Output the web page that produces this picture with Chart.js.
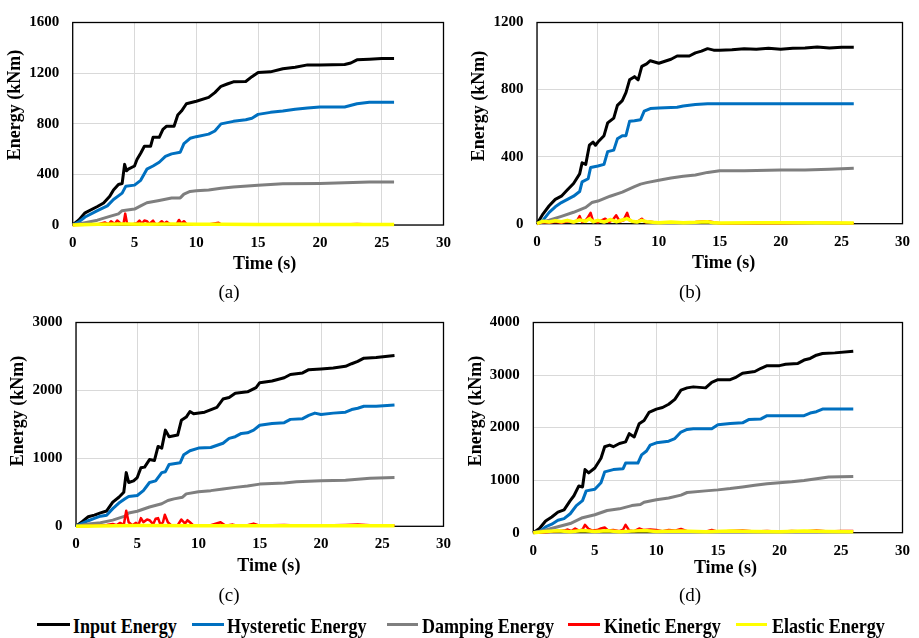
<!DOCTYPE html>
<html>
<head>
<meta charset="utf-8">
<script src="https://cdn.jsdelivr.net/npm/chart.js@4.4.1/dist/chart.umd.min.js"></script>
<style>
  html, body { margin: 0; padding: 0; background: #fff; }
  #wrap { position: relative; width: 919px; height: 638px; overflow: hidden; font-family: "Liberation Serif", "Times New Roman", serif; }
  .panel { position: absolute; }
  .cap { position: absolute; font-size: 19px; transform: translate(-50%, -50%); color: #000; }
  .ax { position: absolute; font-size: 18px; font-weight: bold; white-space: nowrap; color: #000; transform: translate(-50%, -50%); }
  .ax.v { transform: translate(-50%, -50%) rotate(-90deg); }
  .lg-line { position: absolute; height: 3px; }
  .lg-text { position: absolute; font-weight: bold; font-size: 21px; transform: translateY(-50%) scaleX(0.86); transform-origin: left center; white-space: nowrap; color: #000; }
</style>
</head>
<body>
<div id="wrap">
  <div class="panel" style="left:0;top:0;width:460px;height:300px"><canvas id="ca"></canvas></div>
  <div class="panel" style="left:460px;top:0;width:459px;height:300px"><canvas id="cb"></canvas></div>
  <div class="panel" style="left:0;top:300px;width:460px;height:310px"><canvas id="cc"></canvas></div>
  <div class="panel" style="left:460px;top:300px;width:459px;height:310px"><canvas id="cd"></canvas></div>
</div>
<script>
// --- Labels ---
const seriesNames = ['Input Energy', 'Hysteretic Energy', 'Damping Energy', 'Kinetic Energy', 'Elastic Energy'];
const seriesColors = ['#000000', '#0070c0', '#7f7f7f', '#ff0000', '#ffff00'];
const captions = ['(a)', '(b)', '(c)', '(d)'];
const xTitle = 'Time (s)';
const yTitle = 'Energy (kNm)';
const xTicks = [0, 5, 10, 15, 20, 25, 30];
const yTicksA = [0, 400, 800, 1200, 1600];
const yTicksB = [0, 400, 800, 1200];
const yTicksC = [0, 1000, 2000, 3000];
const yTicksD = [0, 1000, 2000, 3000, 4000];

// --- Panel (a) ---
const tInputA = [0,0.5,1,2,2.5,3,3.3,3.7,4.0,4.2,4.35,4.5,5,5.2,5.5,5.8,6.3,6.5,7,7.3,7.6,8.2,8.5,8.8,9.2,10,11,11.5,12,12.5,13,14,14.5,15,16,17,18,19,20,22,22.5,23,24,25,26];
const eInputA = [0,40,96,146,174,227,277,320,328,479,428,441,466,517,567,622,622,693,693,756,781,781,869,900,958,978,1008,1046,1096,1114,1131,1134,1172,1205,1210,1235,1247,1265,1265,1268,1280,1305,1310,1315,1315];
const tHystA = [0,0.5,1,2,2.8,3.3,4,4.3,5,5.5,6,6.5,7,7.5,8,8.7,9,9.5,10,11,11.5,12,13,14,14.5,15,16,17,18,19,20,22,23,24,26];
const eHystA = [0,25,63,113,151,202,252,307,315,353,441,466,496,542,562,575,643,685,698,718,743,799,819,832,844,874,890,900,915,925,932,932,958,970,970];
const tDampA = [0,1,2,3,3.7,4,5,5.5,6,7,8,8.7,9,9.5,10,11,12,13,15,17,20,22,24,26];
const eDampA = [0,18,38,68,88,113,126,151,176,194,214,214,244,265,270,277,290,300,315,325,328,333,340,340];
const tKinA = [0,1,2,2.6,2.9,3.1,3.4,3.6,3.9,4.1,4.25,4.4,4.8,5.2,5.4,5.6,5.8,6.0,6.2,6.5,6.7,6.9,7.2,7.4,7.6,7.9,8.4,8.6,8.8,9.0,9.2,9.4,10,11,11.8,12,12.2,13,14,15,16,17,19,20,22,23,24,25,26];
const eKinA = [0,2,5,20,5,30,8,35,10,5,90,10,5,15,35,10,35,30,8,35,5,5,30,10,25,3,5,40,10,30,8,3,5,5,18,5,3,3,3,6,3,3,3,6,3,8,3,5,3];
const tElasA = [0,2,4,6,8,10,12,15,20,26];
const eElasA = [0,5,7,6,7,5,5,4,4,4];

// --- Panel (b) ---
const tInputB = [0,0.5,1,1.5,2,2.5,3,3.5,3.7,4,4.3,4.6,4.8,5,5.5,5.8,6.3,6.6,7,7.3,7.6,8,8.3,8.6,9,9.3,10,11,11.5,12.5,13,13.5,14,14.5,15,16,17,18,19,20,21,22,23,24,25,26];
const eInputB = [0,59,107,145,164,202,240,297,363,354,468,487,468,487,525,601,630,706,734,782,858,877,858,938,953,972,957,981,1000,1000,1019,1029,1044,1035,1035,1038,1044,1040,1046,1040,1046,1048,1054,1048,1052,1052];
const tHystB = [0,0.5,1,1.5,2,2.5,3,3.5,3.7,4.2,4.4,5,5.5,5.8,6.3,6.6,7,7.3,7.6,8,8.5,8.8,9.3,10,11.5,12,13,14,26];
const eHystB = [0,21,68,101,126,145,164,192,249,268,335,344,354,430,439,506,525,525,611,614,620,671,687,690,694,702,711,715,715];
const tDampB = [0,1,2,3,4,4.5,5,6,7,8,8.5,9,10,11,12,13,14,15,17,20,22,24,26];
const eDampB = [0,21,44,68,97,126,135,164,188,221,236,245,259,272,283,291,306,316,316,320,320,325,331];
const tKinB = [0,0.5,1,1.5,2,2.5,3,3.3,3.5,3.7,4,4.2,4.4,4.6,5,5.3,5.6,5.9,6.2,6.5,6.8,7.1,7.4,7.6,8,8.3,8.6,8.9,9.3,10,11,12,13,14,15,17,20,23,26];
const eKinB = [0,10,5,12,6,15,8,20,45,10,20,40,65,15,8,20,30,10,20,50,12,20,65,20,10,15,30,8,12,5,5,8,10,15,3,3,3,5,3];
const tElasB = [0,0.5,1,1.5,2,2.5,3,3.5,4,4.3,4.6,5,5.5,6,6.5,7,7.4,7.8,8.2,8.6,9,9.5,10,11,12,13,14,14.5,15,18,22,26];
const eElasB = [0,15,10,18,12,20,10,22,15,30,12,20,10,25,12,22,30,15,10,20,12,8,5,10,6,8,12,5,4,5,6,4];

// --- Panel (c) ---
const tInputC = [0,0.5,1,1.5,2,2.5,3,3.5,3.9,4.1,4.3,4.7,5,5.3,5.6,6,6.4,6.7,7,7.3,7.6,8.3,8.6,9,9.3,9.6,10.5,11.5,12,12.5,13,14,14.7,15,16,17,17.5,18.5,19,20,21,22,22.5,23,23.5,24.5,26];
const eInputC = [0,67,140,164,197,226,356,428,501,790,645,669,717,862,871,982,968,1175,1151,1416,1319,1343,1560,1608,1690,1656,1680,1752,1873,1897,1960,1979,2042,2114,2138,2186,2234,2258,2306,2316,2330,2355,2393,2427,2475,2484,2513];
const tHystC = [0,0.5,1,1.5,2,2.5,3,3.5,4,4.3,5,5.5,6,6.5,7,7.3,7.6,8.5,8.8,9.3,10,11,12,12.5,13,13.5,14,14.5,15,16,17,17.5,18.5,19,19.5,20,21,22,22.5,23,23.5,24.5,26];
const eHystC = [0,43,82,116,149,164,260,342,404,438,453,525,645,669,790,804,910,934,1054,1112,1151,1160,1223,1295,1319,1367,1377,1416,1488,1512,1526,1574,1584,1632,1666,1646,1666,1680,1719,1738,1767,1767,1786];
const tDampC = [0,1,2,3,4,4.3,5,6,7,7.5,8,8.7,9,10,11,12,13,14,15,17,18,20,22,24,26];
const eDampC = [0,34,53,91,149,197,221,284,332,380,404,428,477,510,525,549,573,592,621,636,655,669,679,708,717];
const tKinC = [0,1,2,2.5,3,3.3,3.6,3.9,4.1,4.3,4.6,4.9,5.1,5.3,5.5,5.8,6.0,6.3,6.5,6.7,6.9,7.1,7.25,7.5,7.8,8.3,8.6,8.9,9.1,9.3,9.6,10,11,11.8,12.2,12.8,13.2,14,14.5,15,16,17,18,19,20,22,23,24,26];
const eKinC = [0,5,10,20,35,15,50,20,230,60,15,50,20,120,60,100,90,30,110,120,20,60,170,60,10,15,100,40,90,60,10,15,15,60,10,25,10,15,40,10,15,20,10,15,10,20,25,15,10];
const tElasC = [0,5,10,15,20,26];
const eElasC = [0,10,8,7,7,7];

// --- Panel (d) ---
const tInputD = [0,0.5,1,1.5,2,2.5,3,3.3,3.7,4,4.2,4.5,5,5.5,5.8,6.2,6.5,7,7.5,7.8,8.2,8.6,9,9.4,10,10.5,11,11.5,12,12.5,13,14,14.5,15,16,16.5,17,18,18.5,19,20,20.5,21.5,22,22.5,23,23.5,24.5,26];
const eInputD = [0,81,224,299,392,435,610,703,890,871,1201,1138,1232,1418,1636,1667,1636,1698,1729,1885,1823,2072,2134,2289,2352,2383,2445,2538,2712,2756,2775,2756,2862,2911,2911,2961,3036,3067,3129,3179,3179,3204,3222,3285,3316,3378,3409,3422,3453];
const tHystD = [0,0.5,1,1.5,2,2.5,3,3.5,4,4.3,5,5.5,5.8,6.5,7.3,7.5,8.5,8.8,9.2,9.5,10,11,11.5,12,12.5,13,14.5,15,16,17,17.5,18.5,19,20,22,22.5,23,23.5,26];
const eHystD = [0,19,112,162,236,267,361,516,610,796,827,952,1157,1201,1219,1325,1325,1481,1555,1667,1711,1742,1792,1916,1966,1978,1978,2053,2078,2090,2153,2165,2227,2227,2227,2277,2302,2352,2352];
const tDampD = [0,1,2,3,4,5,6,7,8,8.7,9,10,11,12,12.5,14,15,16,17,18,19,20,21,22,23,24,26];
const eDampD = [0,50,112,174,286,342,423,454,516,535,579,628,659,715,765,796,815,840,871,902,933,952,970,995,1026,1058,1070];
const tKinD = [0,1,2,2.5,2.8,3.1,3.4,3.7,4.0,4.2,4.5,4.8,5.2,5.5,5.8,6.1,6.5,7,7.3,7.5,7.8,8.2,8.6,9,9.5,10,10.5,11,11.5,12,12.5,13,14,14.5,15,16,17,18,19,20,21,22,23,24,25,26];
const eKinD = [0,10,30,40,60,30,80,40,60,150,70,40,50,80,100,40,50,30,60,150,40,30,80,50,60,50,30,50,40,70,30,20,20,50,20,30,40,25,30,20,30,25,40,25,30,30];
const tElasD = [0,1,2,3,4,5,6,7,8,9,10,12,14,16,18,20,22,24,26];
const eElasD = [0,25,35,20,40,25,35,20,30,40,25,30,20,30,25,20,30,25,20];

// --- Layout (page pixels) ---
const panels = [
  {id: 'ca', w: 460, h: 300, plot: [72.7, 443.7, 13, 225], xH: 48.3, yTicks: yTicksA,
   data: [[tInputA, eInputA], [tHystA, eHystA], [tDampA, eDampA], [tKinA, eKinA], [tElasA, eElasA]],
   cap: [229, 292], xt: [264.7, 262.5], yt: [14, 105]},
  {id: 'cb', w: 459, h: 300, plot: [77, 444.3, 13, 223.7], xH: 49.4, yTicks: yTicksB,
   data: [[tInputB, eInputB], [tHystB, eHystB], [tDampB, eDampB], [tKinB, eKinB], [tElasB, eElasB]],
   cap: [690, 292], xt: [723.7, 262.3], yt: [477.5, 106]},
  {id: 'cc', w: 460, h: 310, plot: [76, 443.7, 18.7, 226.3], xH: 49.5, yTicks: yTicksC,
   data: [[tInputC, eInputC], [tHystC, eHystC], [tDampC, eDampC], [tKinC, eKinC], [tElasC, eElasC]],
   cap: [229, 595], xt: [268.8, 565], yt: [16.7, 411]},
  {id: 'cd', w: 459, h: 310, plot: [73.3, 444.7, 18.3, 232.7], xH: 44.8, yTicks: yTicksD,
   data: [[tInputD, eInputD], [tHystD, eHystD], [tDampD, eDampD], [tKinD, eKinD], [tElasD, eElasD]],
   cap: [690, 595], xt: [725.5, 566.7], yt: [475, 411]}
];
const lineWidths = [3, 3, 3, 2.5, 3.5];
const serif = "'Liberation Serif', 'Times New Roman', serif";
const wrap = document.getElementById('wrap');

// border round the plot area
const frame = {
  id: 'frame',
  beforeDatasetsDraw(chart) {
    const a = chart.chartArea, ctx = chart.ctx;
    ctx.save();
    ctx.strokeStyle = '#000';
    ctx.lineWidth = 1.3;
    ctx.strokeRect(a.left, a.top, a.right - a.left, a.bottom - a.top);
    ctx.restore();
  }
};

function pts(ts, vs) {
  return ts.map((t, i) => ({x: t, y: vs[i]}));
}

function addText(cls, text, x, y) {
  const el = document.createElement('div');
  el.className = cls;
  el.textContent = text;
  el.style.left = x + 'px';
  el.style.top = y + 'px';
  wrap.appendChild(el);
}

panels.forEach((p, k) => {
  const [L, R, T, B] = p.plot;
  const yTicks = p.yTicks;
  new Chart(document.getElementById(p.id), {
    type: 'line',
    data: {
      datasets: p.data.map((d, i) => ({
        label: seriesNames[i],
        data: pts(d[0], d[1]),
        borderColor: seriesColors[i],
        backgroundColor: seriesColors[i],
        borderWidth: lineWidths[i],
        pointRadius: 0,
        tension: 0,
        borderJoinStyle: 'round',
        clip: 4,
        order: 4 - i
      }))
    },
    options: {
      responsive: true,
      maintainAspectRatio: false,
      animation: false,
      events: [],
      layout: {padding: {left: 0, top: T, right: p.w - R, bottom: p.h - B - p.xH}},
      plugins: {legend: {display: false}, tooltip: {enabled: false}},
      scales: {
        x: {
          type: 'linear', min: 0, max: 30,
          afterBuildTicks: s => { s.ticks = xTicks.map(v => ({value: v})); },
          afterFit: s => { s.height = p.xH; },
          grid: {color: '#d9d9d9', lineWidth: 1, drawTicks: false},
          border: {display: false},
          ticks: {color: '#000', padding: 9, maxRotation: 0, callback: v => String(v),
                  font: {family: serif, weight: 'bold', size: 15}}
        },
        y: {
          min: 0, max: yTicks[yTicks.length - 1],
          afterBuildTicks: s => { s.ticks = yTicks.map(v => ({value: v})); },
          afterFit: s => { s.width = L; },
          grid: {color: '#d9d9d9', lineWidth: 1, drawTicks: false},
          border: {display: false},
          ticks: {color: '#000', padding: 13.5, callback: v => String(v),
                  font: {family: serif, weight: 'bold', size: 15}}
        }
      }
    },
    plugins: [frame]
  });

  // axis titles and caption as page text
  addText('ax', xTitle, p.xt[0], p.xt[1]);
  addText('ax v', yTitle, p.yt[0], p.yt[1]);
  addText('cap', captions[k], p.cap[0], p.cap[1]);
});

// --- Shared legend ---
const legendX = [[36.7, 70, 73.3], [191.7, 224, 226.7], [386.7, 418, 421.7], [568, 600, 604], [736, 767, 771.7]];
const legendY = 624;
seriesNames.forEach((name, i) => {
  const [x0, x1, tx] = legendX[i];
  const ln = document.createElement('div');
  ln.className = 'lg-line';
  ln.style.left = x0 + 'px';
  ln.style.width = (x1 - x0) + 'px';
  ln.style.top = (legendY - 1.5) + 'px';
  ln.style.background = seriesColors[i];
  wrap.appendChild(ln);
  const txt = document.createElement('div');
  txt.className = 'lg-text';
  txt.textContent = name;
  txt.style.left = tx + 'px';
  txt.style.top = (legendY + 2) + 'px';
  wrap.appendChild(txt);
});
</script>
</body>
</html>
